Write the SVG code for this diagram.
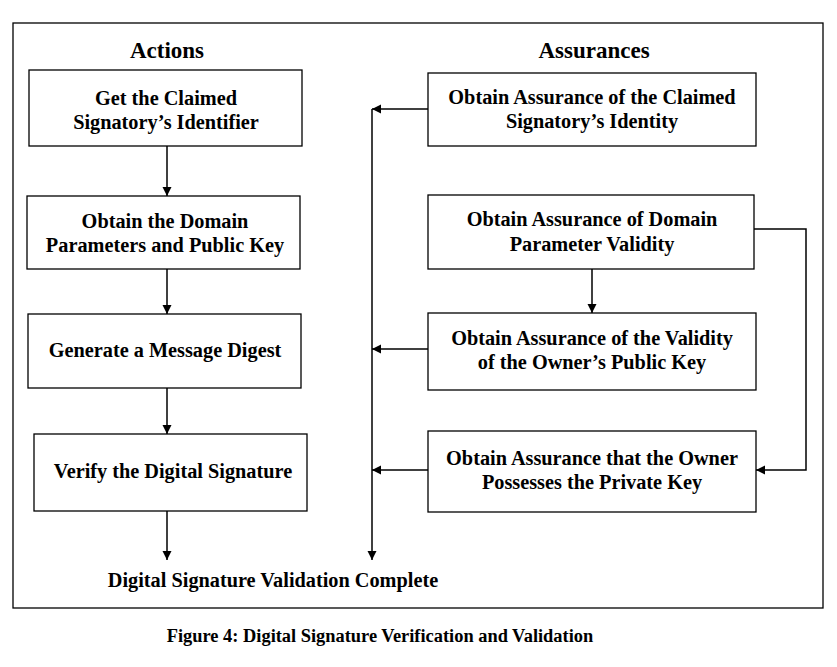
<svg xmlns="http://www.w3.org/2000/svg" width="837" height="667" viewBox="0 0 837 667">
<style>
text{font-family:"Liberation Serif","Times New Roman",serif;font-weight:bold;fill:#000;text-anchor:middle}
.t{font-size:20.3px}
.h{font-size:23px}
.cap{font-size:18.4px}
rect.b{fill:#fff;stroke:#000;stroke-width:1.3}
.c{fill:none;stroke:#000;stroke-width:1.5}
</style>
<defs>
<marker id="a" markerWidth="10" markerHeight="10" refX="9" refY="5" orient="auto" markerUnits="userSpaceOnUse">
<path d="M0,0.5 L9,5 L0,9.5 Z" fill="#000"/>
</marker>
</defs>
<rect width="837" height="667" fill="#fff"/>
<rect x="13" y="23" width="810" height="585" fill="none" stroke="#000" stroke-width="1.3"/>
<text class="h" x="167" y="58">Actions</text>
<text class="h" x="594" y="58">Assurances</text>
<g id="get-identifier"><rect class="b" x="29" y="70" width="273" height="76" stroke-width="2"/><text class="t" x="166" y="105">Get the Claimed</text><text class="t" x="166" y="129">Signatory’s Identifier</text></g>
<g id="obtain-domain"><rect class="b" x="27" y="196" width="273" height="73"/><text class="t" x="165" y="228">Obtain the Domain</text><text class="t" x="165" y="252">Parameters and Public Key</text></g>
<g id="generate-digest"><rect class="b" x="28" y="314" width="273" height="74"/><text class="t" x="165" y="357">Generate a Message Digest</text></g>
<g id="verify-signature"><rect class="b" x="34" y="434" width="273" height="77"/><text class="t" x="173" y="478">Verify the Digital Signature</text></g>
<g id="assure-identity"><rect class="b" x="428" y="73" width="328" height="73"/><text class="t" x="592" y="104">Obtain Assurance of the Claimed</text><text class="t" x="592" y="128">Signatory’s Identity</text></g>
<g id="assure-domain"><rect class="b" x="428" y="195" width="326" height="74"/><text class="t" x="592" y="226">Obtain Assurance of Domain</text><text class="t" x="592" y="251">Parameter Validity</text></g>
<g id="assure-pubkey"><rect class="b" x="428" y="313" width="328" height="77"/><text class="t" x="592" y="345">Obtain Assurance of the Validity</text><text class="t" x="592" y="369">of the Owner’s Public Key</text></g>
<g id="assure-privkey"><rect class="b" x="428" y="431" width="328" height="81"/><text class="t" x="592" y="465">Obtain Assurance that the Owner</text><text class="t" x="592" y="489">Possesses the Private Key</text></g>
<g id="complete"><text class="t" x="273" y="587">Digital Signature Validation Complete</text></g>
<g id="connectors">
<line class="c" x1="167" y1="146" x2="167" y2="196" marker-end="url(#a)"/>
<line class="c" x1="167" y1="269" x2="167" y2="314" marker-end="url(#a)"/>
<line class="c" x1="167" y1="388" x2="167" y2="434" marker-end="url(#a)"/>
<line class="c" x1="167" y1="511" x2="167" y2="560" marker-end="url(#a)"/>
<line class="c" x1="372" y1="109" x2="372" y2="560" marker-end="url(#a)"/>
<line class="c" x1="428" y1="109" x2="372" y2="109" marker-end="url(#a)"/>
<line class="c" x1="428" y1="349" x2="372" y2="349" marker-end="url(#a)"/>
<line class="c" x1="428" y1="470" x2="372" y2="470" marker-end="url(#a)"/>
<line class="c" x1="592" y1="269" x2="592" y2="313" marker-end="url(#a)"/>
<polyline class="c" points="754,229 806,229 806,470 756,470" marker-end="url(#a)"/>
</g>
<text class="cap" x="380" y="642">Figure 4: Digital Signature Verification and Validation</text>
</svg>
